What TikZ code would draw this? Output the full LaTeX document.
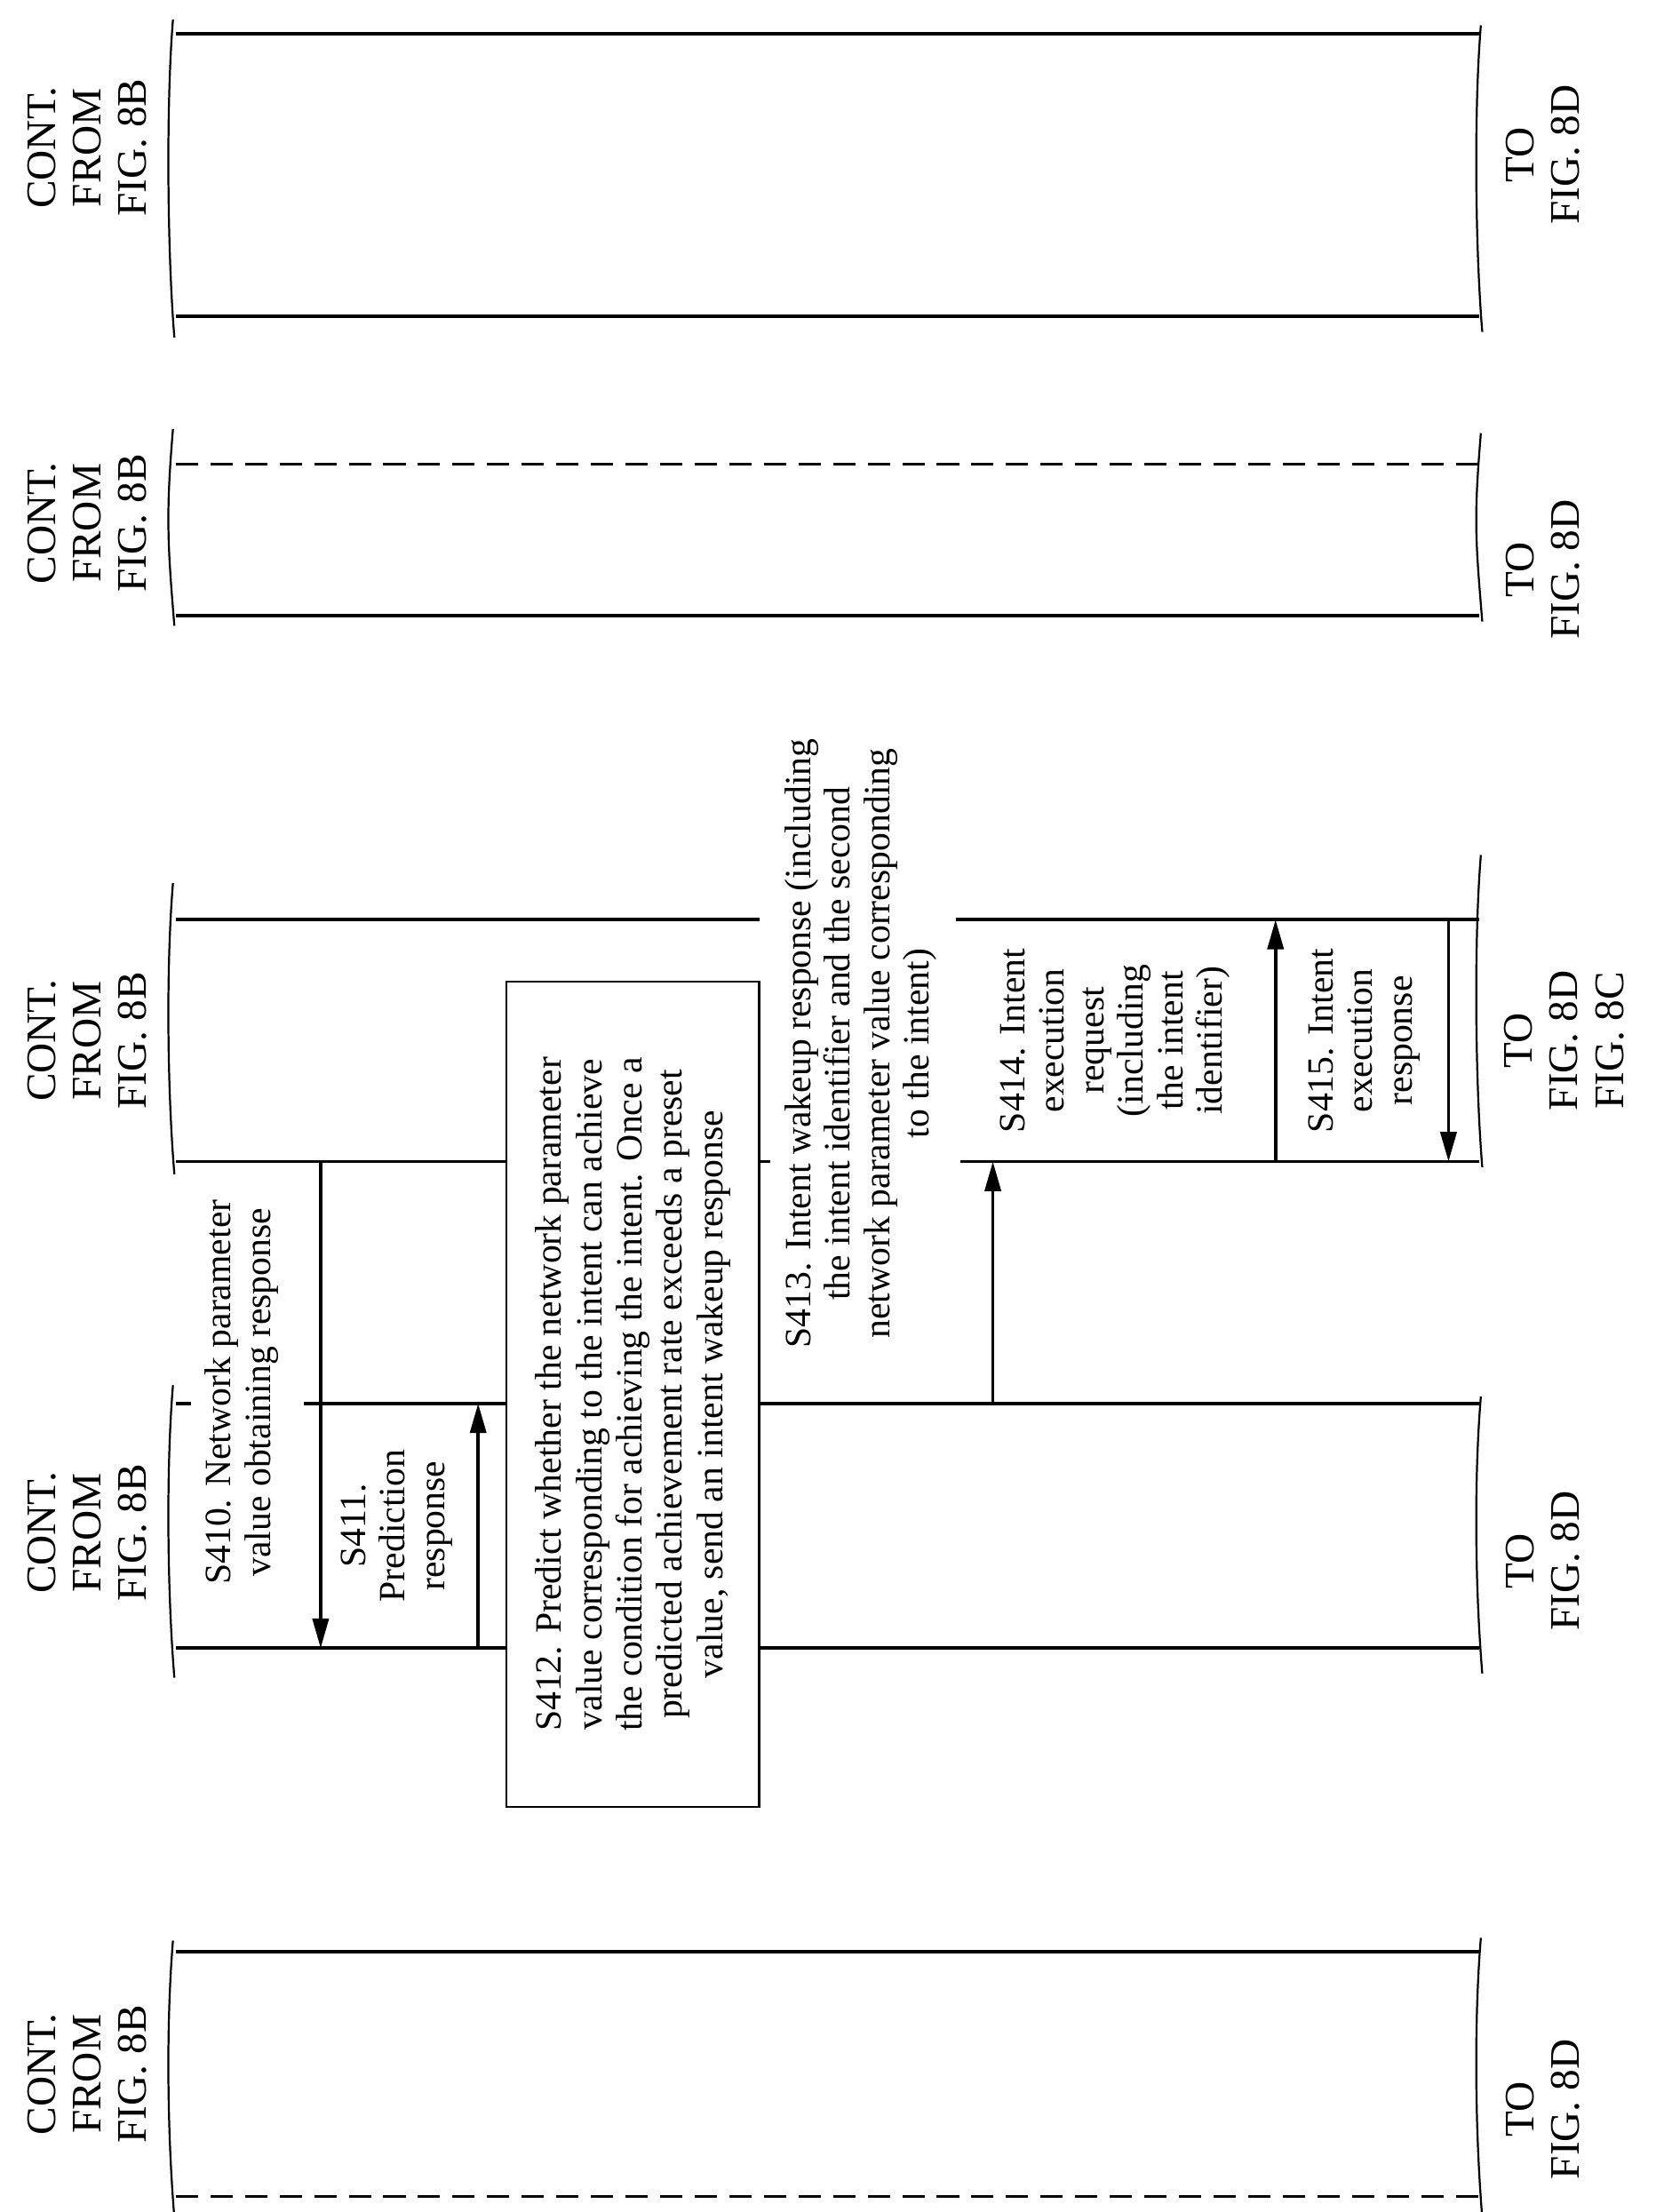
\documentclass[tikz,border=0pt]{standalone}
\usepackage{fontspec}
\setmainfont{Liberation Serif}
\usetikzlibrary{arrows.meta}
\begin{document}
\begin{tikzpicture}[x=0.02cm,y=-0.02cm,
  ll/.style={line width=1.4pt},
  ar/.style={line width=1.3pt,-{Triangle[length=12pt,width=6.5pt]}},
  br/.style={line width=0.8pt},
  lab/.style={rotate=90,align=center,inner sep=0pt,font=\fontsize{17}{18.5}\selectfont},
  txt/.style={rotate=90,align=center,inner sep=0pt,font=\fontsize{15}{16}\selectfont}]
\useasboundingbox (0,0) rectangle (1183,1573);
% brackets
\foreach \x/\a/\b in {123/14/240,1053/18/236,123/305/445,1053/308/442,123/628/835,1053/608/830,123/985/1193,1053/993/1190,123/1380/1577,1053/1378/1577}{
  \draw[br] (\x,\a) .. controls (\x-5,\a+60) and (\x-4,\b-60) .. (\x+1,\b);}
% block 1
\draw[ll] (125,24) -- (1052,24);
\draw[ll] (125,225) -- (1052,225);
% block 2
\draw[ll,dashed,dash pattern=on 9pt off 5pt,line width=1.2pt] (125,330) -- (1052,330);
\draw[ll] (125,438) -- (1052,438);
% block 3
\draw[ll] (125,654) -- (540,654);
\draw[ll] (680,654) -- (1052,654);
\draw[ll] (125,826) -- (360,826);
\draw[ll] (540,826) -- (548,826);
\draw[ll] (683,826) -- (1052,826);
% block 4
\draw[ll] (125,998) -- (136,998);
\draw[ll] (216,998) -- (360,998);
\draw[ll] (540,998) -- (1052,998);
\draw[ll] (125,1172) -- (360,1172);
\draw[ll] (540,1172) -- (1052,1172);
% block 5
\draw[ll] (125,1388) -- (1052,1388);
\draw[ll,dash pattern=on 9pt off 5pt,line width=1.2pt] (125,1562) -- (1052,1562);
% labels
\node[lab] (l1) at (62,105) {CONT.\\FROM\\FIG. 8B};
\node[lab] (r1) at (1097,110) {TO\\FIG. 8D};
\node[lab] (l2) at (62,372) {CONT.\\FROM\\FIG. 8B};
\node[lab] (r2) at (1097,405) {TO\\FIG. 8D};
\node[lab] (l3) at (62,740) {CONT.\\FROM\\FIG. 8B};
\node[lab] (r3) at (1112,740) {TO\\FIG. 8D\\FIG. 8C};
\node[lab] (l4) at (62,1090) {CONT.\\FROM\\FIG. 8B};
\node[lab] (r4) at (1097,1110) {TO\\FIG. 8D};
\node[lab] (l5) at (62,1475) {CONT.\\FROM\\FIG. 8B};
\node[lab] (r5) at (1097,1500) {TO\\FIG. 8D};
% box S412
\node[draw,line width=1pt,rotate=90,minimum width=11.74cm,minimum height=3.6cm,align=center,inner sep=0pt,font=\fontsize{15}{16.3}\selectfont] (s412) at (450,991.5)
 {S412. Predict whether the network parameter\\value corresponding to the intent can achieve\\the condition for achieving the intent. Once a\\predicted achievement rate exceeds a preset\\value, send an intent wakeup response};
% step texts
\node[txt] (t410) at (172,990) {S410. Network parameter\\value obtaining response};
\node[txt] (t411) at (282,1085) {S411.\\Prediction\\response};
\node[txt] (t413) at (612,742) {S413. Intent wakeup response (including\\the intent identifier and the second\\network parameter value corresponding\\to the intent)};
\node[txt] (t414) at (793,740) {S414. Intent\\execution\\request\\(including\\the intent\\identifier)};
\node[txt] (t415) at (970,740) {S415. Intent\\execution\\response};
% arrows
\coordinate (a410) at (228,826); \coordinate (b410) at (228,1172);
\coordinate (a411) at (340,1172); \coordinate (b411) at (340,998);
\coordinate (a413) at (706,998); \coordinate (b413) at (706,826);
\coordinate (a414) at (907,826); \coordinate (b414) at (907,654);
\coordinate (a415) at (1030,654); \coordinate (b415) at (1030,826);
\draw[ar] (a410) -- (b410);
\draw[ar] (a411) -- (b411);
\draw[ar] (a413) -- (b413);
\draw[ar] (a414) -- (b414);
\draw[ar] (a415) -- (b415);
\end{tikzpicture}
\end{document}
